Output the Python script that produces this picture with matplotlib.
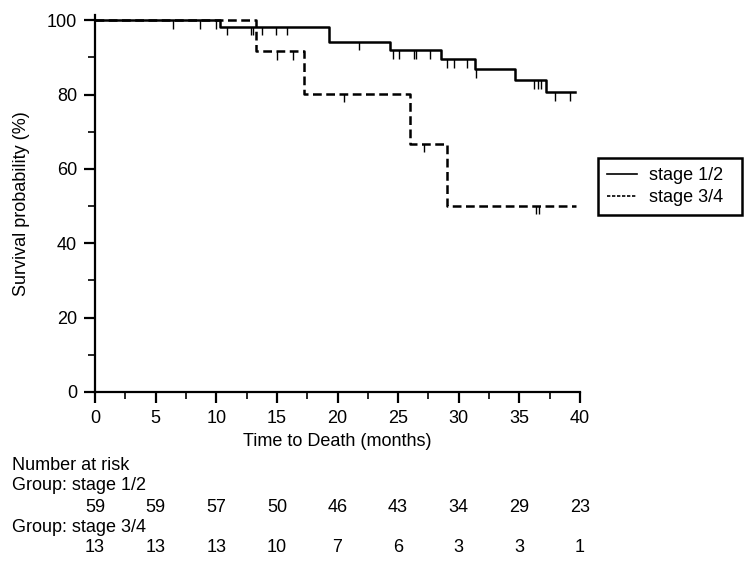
import numpy as np
import matplotlib.pyplot as plt
from matplotlib.lines import Line2D
from matplotlib.transforms import blended_transform_factory

plt.rcParams['font.family'] = ['Liberation Sans', 'DejaVu Sans']
plt.rcParams['font.size'] = 13

# Kaplan-Meier steps
t_early = [0, 10.3, 19.3, 24.3, 28.5, 31.3, 34.6, 37.2, 39.6]
s_early = [100, 98.3, 94.2, 92.0, 89.5, 86.8, 83.9, 80.6, 80.6]
cens_early = [6.4, 8.7, 10.0, 10.9, 12.9, 13.05, 13.8, 14.9, 15.8, 21.8, 24.6, 25.1,
              26.3, 26.5, 27.6, 29.0, 29.6, 30.7, 31.4, 36.2, 36.5, 36.8, 37.9, 39.2]

t_late = [0, 13.3, 17.2, 26.0, 29.0, 39.7]
s_late = [100, 91.7, 80.2, 66.8, 50.1, 50.1]
cens_late = [15.0, 16.3, 20.5, 27.1, 36.4, 36.6]

risk_times = [0, 5, 10, 15, 20, 25, 30, 35, 40]
risk_early = [59, 59, 57, 50, 46, 43, 34, 29, 23]
risk_late = [13, 13, 13, 10, 7, 6, 3, 3, 1]


def step_value(times, surv, x):
    idx = np.searchsorted(times, x, side='right') - 1
    return np.array(surv)[idx]


fig = plt.figure(figsize=(7.5, 5.66), dpi=100)
ax = fig.add_axes([95 / 750, 174 / 566, 485 / 750, 377 / 566])

ax.step(t_early, s_early, where='post', color='black', lw=1.8, ls='-')
ax.step(t_late, s_late, where='post', color='black', lw=1.8, ls=(0, (3.5, 1.8)))

# censor marks hang below the curve
ye = step_value(t_early, s_early, cens_early)
ax.vlines(cens_early, ye - 2.3, ye, color='black', lw=1.0)
yl = step_value(t_late, s_late, cens_late)
ax.vlines(cens_late, yl - 2.3, yl, color='black', lw=1.0)

ax.set_xlim(0, 40)
ax.set_ylim(0, 101.4)
ax.set_xticks(range(0, 41, 5))
ax.set_xticks(np.arange(2.5, 40, 5), minor=True)
ax.set_yticks(range(0, 101, 20))
ax.set_yticks(range(10, 100, 20), minor=True)
ax.tick_params(which='major', direction='out', length=8, width=1.6, pad=5)
ax.tick_params(which='minor', direction='out', length=5, width=1.2)
for side in ['top', 'right']:
    ax.spines[side].set_visible(False)
for side in ['left', 'bottom']:
    ax.spines[side].set_linewidth(1.6)

ax.set_xlabel('Time to Death (months)', labelpad=4)
ax.set_ylabel('Survival probability (%)')
ax.yaxis.set_label_coords(-0.135, 0.5)

handles = [Line2D([], [], color='black', lw=1.2, ls='-'),
           Line2D([], [], color='black', lw=1.2, ls=(0, (2, 1)))]
leg = fig.legend(handles, ['stage 1/2', 'stage 3/4'], loc='upper left',
                 bbox_to_anchor=(598 / 750, 1 - 164 / 566, 144 / 750, 0.01),
                 mode='expand', fancybox=False,
                 framealpha=1, edgecolor='black', handlelength=1.66,
                 borderpad=0.5, labelspacing=0.25, handletextpad=0.66,
                 borderaxespad=0)
leg.get_frame().set_linewidth(1.8)

# number at risk table
tr = blended_transform_factory(ax.transData, fig.transFigure)
fig.text(12 / 750, 1 - 466 / 566, 'Number at risk', va='center', ha='left')
fig.text(12 / 750, 1 - 486 / 566, 'Group: stage 1/2', va='center', ha='left')
fig.text(12 / 750, 1 - 527 / 566, 'Group: stage 3/4', va='center', ha='left')
for x, n in zip(risk_times, risk_early):
    ax.text(x, 1 - 507 / 566, str(n), transform=tr, ha='center', va='center')
for x, n in zip(risk_times, risk_late):
    ax.text(x, 1 - 548 / 566, str(n), transform=tr, ha='center', va='center')

fig.savefig('out.png', dpi=100)
